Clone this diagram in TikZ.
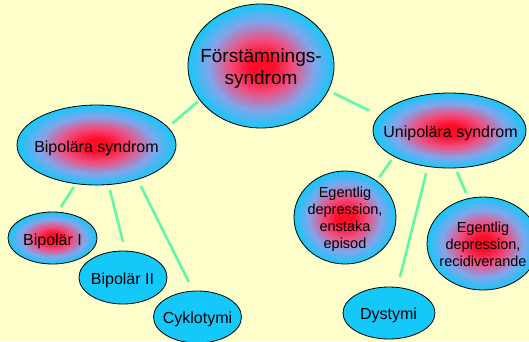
\documentclass[tikz,border=0pt]{standalone}
\usepackage{fontspec}
\setmainfont{Liberation Sans}
\usetikzlibrary{shapes.geometric}
\definecolor{bgyellow}{RGB}{255,255,204}
\definecolor{myblue}{RGB}{20,200,250}
\definecolor{myred}{RGB}{255,12,40}
\definecolor{mypink}{RGB}{238,80,130}
\definecolor{mylav}{RGB}{130,165,235}
\definecolor{mint}{RGB}{95,248,170}
\pgfdeclareradialshading{rbshade}{\pgfpoint{0bp}{0bp}}{color(0bp)=(myred); color(4bp)=(myred); color(11bp)=(mypink); color(18bp)=(mylav); color(25bp)=(myblue); color(50bp)=(myblue)}
\begin{document}
\begin{tikzpicture}[x=1pt,y=-1pt,
  ell/.style={ellipse, draw=black, line width=0.8pt, inner sep=0pt, outer sep=0pt},
  glow/.style={ell, shade, shading=rbshade},
  plainell/.style={ell, fill=myblue},
  conn/.style={draw=mint, line width=2.6pt},
  lbl/.style={font=\fontsize{16}{19}\selectfont, inner sep=0pt, align=center},
  lblsmall/.style={font=\fontsize{14.5}{17}\selectfont, inner sep=0pt, align=center},
  lblbig/.style={font=\fontsize{19}{22}\selectfont, inner sep=0pt, align=center}]
\useasboundingbox (0,0) rectangle (529,341);
\fill[bgyellow] (0,0) rectangle (529,341);
\clip (0,0) rectangle (529,341);

\node[glow, minimum width=146pt, minimum height=124pt] (T) at (261,66) {};
\node[glow, minimum width=159pt, minimum height=80pt] (B) at (96.5,145) {};
\node[glow, minimum width=153pt, minimum height=75pt] (U) at (449.5,130.5) {};
\node[glow, minimum width=102pt, minimum height=93pt] (E1) at (345,217.5) {};
\node[glow, minimum width=112pt, minimum height=93pt] (E2) at (483,243.5) {};
\node[plainell, minimum width=92pt, minimum height=52pt] (D) at (389,313) {};
\node[glow, minimum width=89pt, minimum height=52pt] (B1) at (52.5,238) {};
\node[plainell, minimum width=88pt, minimum height=53pt] (B2) at (123,277.5) {};
\node[plainell, minimum width=88pt, minimum height=52pt] (C) at (197.5,317) {};

\node[lblbig] (Tt) at (261,69) {Förstämnings-\\syndrom};
\node[lbl] (Bt) at (96.5,148.5) {Bipolära syndrom};
\node[lbl] (Ut) at (450.5,133) {Unipolära syndrom};
\node[lblsmall] (E1t) at (345,219) {Egentlig\\depression,\\enstaka\\episod};
\node[lblsmall] (E2t) at (483,244) {Egentlig\\depression,\\recidiverande};
\node[lbl] (Dt) at (388.5,315) {Dystymi};
\node[lbl] (B1t) at (52.5,241) {Bipolär I};
\node[lbl] (B2t) at (122.5,280.5) {Bipolär II};
\node[lbl] (Ct) at (197.5,319) {Cyklotymi};

\draw[conn, shorten <=2.8pt, shorten >=6pt] (T.209) -- (B.14);
\draw[conn, shorten <=6.4pt, shorten >=11.1pt] (T.340) -- (U.168);
\draw[conn, shorten <=3.9pt, shorten >=6.2pt] (B.242) -- (B1.79);
\draw[conn, shorten <=5.6pt, shorten >=9.3pt] (B.287) -- (B2.85);
\draw[conn, shorten <=7.5pt, shorten >=10.2pt] (B.320) -- (C.99);
\draw[conn, shorten <=4.7pt, shorten >=4.7pt] (U.205) -- (E1.49);
\draw[conn, shorten <=6.8pt, shorten >=10.7pt] (U.239) -- (D.72);
\draw[conn, shorten <=4.5pt, shorten >=6.1pt] (U.279) -- (E2.108);
\end{tikzpicture}
\end{document}
